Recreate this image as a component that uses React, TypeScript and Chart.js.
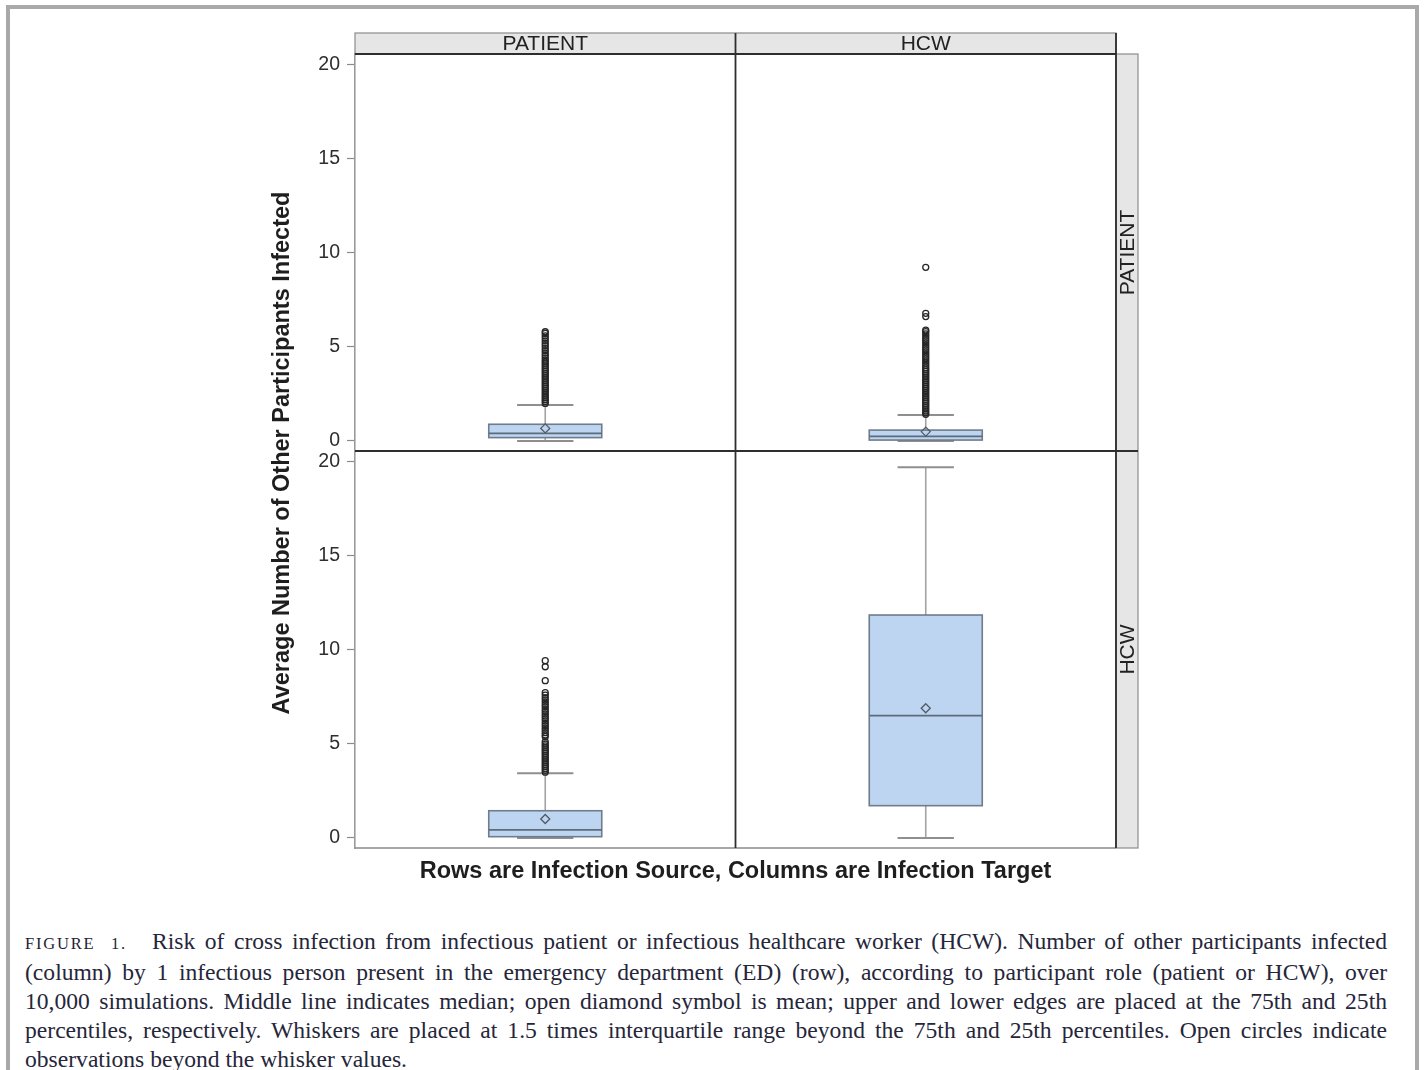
import React, { useEffect, useRef } from 'react';
import { Chart, registerables } from 'chart.js';

Chart.register(...registerables);

const SANS = '"Liberation Sans", Arial, Helvetica, sans-serif';
const SERIF = '"Liberation Serif", "Times New Roman", serif';

// Facet labels
const COLUMN_LABELS = ['PATIENT', 'HCW']; // infection target
const ROW_LABELS = ['PATIENT', 'HCW']; // infection source
const Y_TICKS = [0, 5, 10, 15, 20];
const X_TITLE = 'Rows are Infection Source, Columns are Infection Target';
const Y_TITLE = 'Average Number of Other Participants Infected';

// Panel order: [src PATIENT->tgt PATIENT, src PATIENT->tgt HCW, src HCW->tgt PATIENT, src HCW->tgt HCW]
const PANEL_ROW = [0, 0, 1, 1];
const PANEL_COL = [0, 1, 0, 1];
const WHISKER_LOW = [0, 0, 0, 0];
const Q1 = [0.18, 0.05, 0.07, 1.72];
const MEDIAN = [0.41, 0.25, 0.43, 6.51];
const Q3 = [0.89, 0.58, 1.45, 11.86];
const WHISKER_HIGH = [1.91, 1.38, 3.44, 19.72];
const MEAN = [0.67, 0.5, 1.01, 6.9];

const OUTLIERS_PP = [
  2.0, 2.1, 2.2, 2.3, 2.4, 2.5, 2.6, 2.7, 2.8, 2.9, 3.0, 3.1, 3.2, 3.3, 3.4, 3.5, 3.6, 3.7,
  3.8, 3.9, 4.0, 4.1, 4.2, 4.3, 4.42, 4.55, 4.68, 4.81, 4.94, 5.07, 5.2, 5.33, 5.46, 5.59,
  5.72, 5.81,
];
const OUTLIERS_PH = [
  1.42, 1.5, 1.6, 1.7, 1.8, 1.9, 2.0, 2.1, 2.2, 2.3, 2.4, 2.5, 2.6, 2.7, 2.8, 2.9, 3.0, 3.1,
  3.2, 3.3, 3.4, 3.5, 3.6, 3.7, 3.8, 3.9, 4.02, 4.14, 4.26, 4.38, 4.5, 4.62, 4.74, 4.86,
  4.98, 5.1, 5.22, 5.34, 5.46, 5.58, 5.7, 5.82, 5.9, 6.62, 6.79, 9.24,
];
const OUTLIERS_HP = [
  3.5, 3.6, 3.7, 3.8, 3.9, 4.0, 4.1, 4.2, 4.3, 4.4, 4.5, 4.6, 4.7, 4.8, 4.9, 5.0, 5.12, 5.39,
  5.48, 5.6, 5.73, 5.85, 5.98, 6.1, 6.23, 6.35, 6.48, 6.6, 6.73, 6.85, 6.98, 7.1, 7.23, 7.35,
  7.47, 7.6, 7.73, 8.37, 9.11, 9.43,
];
const OUTLIERS_HH: number[] = [];
const OUTLIERS = [OUTLIERS_PP, OUTLIERS_PH, OUTLIERS_HP, OUTLIERS_HH];

const CAPTION_LABEL = 'FIGURE 1.';
const CAPTION_LINES = [
  'Risk of cross infection from infectious patient or infectious healthcare worker (HCW). Number of other participants infected',
  '(column) by 1 infectious person present in the emergency department (ED) (row), according to participant role (patient or HCW), over',
  '10,000 simulations. Middle line indicates median; open diamond symbol is mean; upper and lower edges are placed at the 75th and 25th',
  'percentiles, respectively. Whiskers are placed at 1.5 times interquartile range beyond the 75th and 25th percentiles. Open circles indicate',
  'observations beyond the whisker values.',
];

const COL_CENTER = [0.5, 1.5];
const BOX_HALF = 0.1485;
const CAP_HALF = 0.074;
const STRIP = 21;
const Y_IDS = ['yTop', 'yBot'];

const facetPlugin = {
  id: 'facets',
  beforeDatasetsDraw(chart: any) {
    const ctx = chart.ctx;
    const xs = chart.scales.x;
    const w = (v: number) => xs.getPixelForValue(v) - xs.getPixelForValue(0);
    for (let p = 0; p < 4; p++) {
      const ys = chart.scales[Y_IDS[PANEL_ROW[p]]];
      const cx = xs.getPixelForValue(COL_CENTER[PANEL_COL[p]]);
      const bh = w(BOX_HALF);
      const ch = w(CAP_HALF);
      const yLo = ys.getPixelForValue(WHISKER_LOW[p]);
      const yQ1 = ys.getPixelForValue(Q1[p]);
      const yMed = ys.getPixelForValue(MEDIAN[p]);
      const yQ3 = ys.getPixelForValue(Q3[p]);
      const yHi = ys.getPixelForValue(WHISKER_HIGH[p]);
      ctx.save();
      // whiskers
      ctx.strokeStyle = '#a3a3a3';
      ctx.lineWidth = 1.6;
      ctx.beginPath();
      ctx.moveTo(cx, yQ1);
      ctx.lineTo(cx, yLo);
      ctx.moveTo(cx, yQ3);
      ctx.lineTo(cx, yHi);
      ctx.stroke();
      ctx.strokeStyle = '#8f8f8f';
      ctx.lineWidth = 2;
      ctx.beginPath();
      ctx.moveTo(cx - ch, yLo);
      ctx.lineTo(cx + ch, yLo);
      ctx.moveTo(cx - ch, yHi);
      ctx.lineTo(cx + ch, yHi);
      ctx.stroke();
      // box
      ctx.fillStyle = '#bdd5f1';
      ctx.fillRect(cx - bh, yQ3, 2 * bh, yQ1 - yQ3);
      ctx.strokeStyle = '#6f7c8c';
      ctx.lineWidth = 1.6;
      ctx.strokeRect(cx - bh, yQ3, 2 * bh, yQ1 - yQ3);
      ctx.strokeStyle = '#5d6b7b';
      ctx.lineWidth = 1.8;
      ctx.beginPath();
      ctx.moveTo(cx - bh, yMed);
      ctx.lineTo(cx + bh, yMed);
      ctx.stroke();
      ctx.restore();
    }
  },
  afterDraw(chart: any) {
    const ctx = chart.ctx;
    const a = chart.chartArea;
    const xs = chart.scales.x;
    const yTop = chart.scales.yTop;
    const midX = xs.getPixelForValue(1);
    const midY = yTop.bottom;
    ctx.save();
    // top strip
    ctx.fillStyle = '#e6e6e6';
    ctx.fillRect(a.left, a.top - STRIP, a.right - a.left, STRIP);
    ctx.strokeStyle = '#8c8c8c';
    ctx.lineWidth = 1.2;
    ctx.strokeRect(a.left, a.top - STRIP, a.right - a.left, STRIP);
    // right strip
    ctx.fillRect(a.right, a.top, 22, a.bottom - a.top);
    ctx.strokeRect(a.right, a.top, 22, a.bottom - a.top);
    // panel borders
    ctx.strokeStyle = '#8a8a8a';
    ctx.lineWidth = 1.6;
    ctx.beginPath();
    ctx.moveTo(a.left, a.bottom);
    ctx.lineTo(a.right, a.bottom);
    ctx.stroke();
    ctx.strokeStyle = '#2e2e2e';
    ctx.lineWidth = 1.8;
    ctx.beginPath();
    ctx.moveTo(a.left, a.top);
    ctx.lineTo(a.right, a.top);
    ctx.moveTo(a.left, midY);
    ctx.lineTo(a.right + 22, midY);
    ctx.moveTo(midX, a.top - STRIP);
    ctx.lineTo(midX, a.bottom);
    ctx.moveTo(a.right, a.top - STRIP);
    ctx.lineTo(a.right, a.bottom);
    ctx.stroke();
    // strip texts
    ctx.fillStyle = '#222';
    ctx.font = `21px ${SANS}`;
    ctx.textAlign = 'center';
    ctx.textBaseline = 'middle';
    COLUMN_LABELS.forEach((lab, i) => {
      ctx.fillText(lab, xs.getPixelForValue(COL_CENTER[i]), a.top - STRIP / 2 + 1);
    });
    ROW_LABELS.forEach((lab, i) => {
      const ys = chart.scales[Y_IDS[i]];
      ctx.save();
      ctx.translate(a.right + 12, (ys.top + ys.bottom) / 2);
      ctx.rotate(-Math.PI / 2);
      ctx.fillText(lab, 0, 0);
      ctx.restore();
    });
    // axis titles
    ctx.fillStyle = '#1e1e1e';
    ctx.font = `bold 23.5px ${SANS}`;
    ctx.fillText(X_TITLE, (a.left + a.right) / 2, a.bottom + 24);
    ctx.save();
    ctx.translate(a.left - 72, (a.top + a.bottom) / 2 + 2);
    ctx.rotate(-Math.PI / 2);
    ctx.fillText(Y_TITLE, 0, 0);
    ctx.restore();
    ctx.restore();
  },
};

function yScale() {
  return {
    type: 'linear',
    position: 'left',
    stack: 'rows',
    stackWeight: 1,
    min: -0.532,
    max: 20.585,
    afterBuildTicks: (s: any) => {
      s.ticks = Y_TICKS.map((v) => ({ value: v }));
    },
    afterFit: (s: any) => {
      s.width = 100;
    },
    grid: {
      drawOnChartArea: false,
      drawTicks: true,
      tickLength: 8,
      tickColor: '#8a8a8a',
      tickWidth: 1.2,
    },
    border: { display: true, color: '#9a9a9a', width: 1.6 },
    ticks: { color: '#2e2e2e', font: { family: SANS, size: 19.5 }, padding: 7 },
  };
}

export default function App() {
  const ref = useRef<HTMLCanvasElement | null>(null);

  useEffect(() => {
    if (!ref.current) return;
    const outlierSets = OUTLIERS.map((vals, p) => ({
      label: `outliers ${p}`,
      yAxisID: Y_IDS[PANEL_ROW[p]],
      data: vals.map((v) => ({ x: COL_CENTER[PANEL_COL[p]], y: v })),
      pointStyle: 'circle',
      pointRadius: 3,
      borderWidth: 1.3,
      borderColor: '#262626',
      backgroundColor: 'rgba(255,255,255,0)',
    }));
    const meanSets = [0, 1].map((r) => ({
      label: `mean ${r}`,
      yAxisID: Y_IDS[r],
      data: MEAN.map((m, p) => ({ p, m }))
        .filter((o) => PANEL_ROW[o.p] === r)
        .map((o) => ({ x: COL_CENTER[PANEL_COL[o.p]], y: o.m })),
      pointStyle: 'rectRot',
      pointRadius: 4.5,
      borderWidth: 1.3,
      borderColor: '#505a66',
      backgroundColor: 'rgba(255,255,255,0)',
    }));
    const chart = new Chart(ref.current, {
      type: 'scatter',
      data: { datasets: [...outlierSets, ...meanSets] as any },
      options: {
        animation: false,
        responsive: false,
        devicePixelRatio: 1,
        layout: { padding: { left: 255, right: 309, top: 54, bottom: 52 } },
        plugins: { legend: { display: false }, tooltip: { enabled: false }, title: { display: false } },
        scales: {
          x: { type: 'linear', min: 0, max: 2, display: false },
          // stacked vertical axes are placed in reverse declaration order: bottom row first
          yBot: yScale() as any,
          yTop: yScale() as any,
        },
      },
      plugins: [facetPlugin],
    });
    return () => chart.destroy();
  }, []);

  return (
    <div
      style={{
        position: 'fixed',
        left: 0,
        top: 0,
        width: 1425,
        height: 1070,
        background: '#fff',
        overflow: 'hidden',
      }}
    >
      <div
        style={{
          position: 'absolute',
          left: 6,
          top: 5,
          width: 1413,
          height: 1120,
          boxSizing: 'border-box',
          border: '4px solid #a9a9a9',
        }}
      />
      <canvas
        ref={ref}
        width={1425}
        height={900}
        style={{ position: 'absolute', left: 0, top: 0, width: 1425, height: 900 }}
      />
      <div
        style={{
          position: 'absolute',
          left: 25,
          top: 927,
          width: 1362,
          fontFamily: SERIF,
          fontSize: 23.6,
          lineHeight: '29px',
          color: '#26263a',
        }}
      >
        {CAPTION_LINES.map((line, i) => (
          <div
            key={i}
            style={{
              textAlign: 'justify',
              textAlignLast: i < CAPTION_LINES.length - 1 ? 'justify' : 'left',
              whiteSpace: 'nowrap',
            } as any}
          >
            {i === 0 && (
              <span
                style={{
                  display: 'inline-block',
                  width: 102,
                  marginRight: 25,
                  fontSize: 16.5,
                  letterSpacing: 1.8,
                  color: '#1e1e30',
                }}
              >
                {CAPTION_LABEL}
              </span>
            )}
            {line}
          </div>
        ))}
      </div>
    </div>
  );
}
